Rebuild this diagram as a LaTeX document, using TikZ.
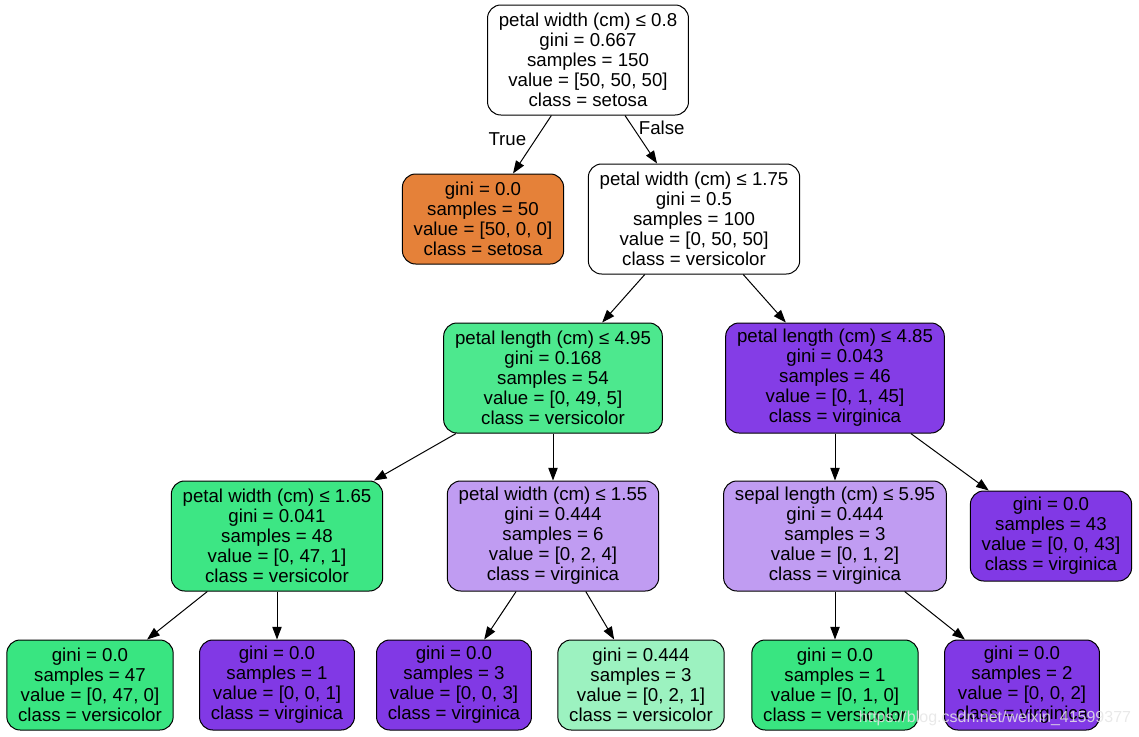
\documentclass[tikz,border=0pt]{standalone}
\usepackage{fontspec}
\setmainfont{Liberation Sans}
\usepackage{xcolor}
\usepackage{tikz}
\usetikzlibrary{arrows.meta, positioning}
\definecolor{setosaorange}{HTML}{e58139}
\definecolor{versigreen}{HTML}{39e581}
\definecolor{versigreenb}{HTML}{4de88e}
\definecolor{versigreenc}{HTML}{3de684}
\definecolor{versilight}{HTML}{9cf2c0}
\definecolor{virgpurple}{HTML}{8139e5}
\definecolor{virgpurpleb}{HTML}{843de6}
\definecolor{virglight}{HTML}{c09cf2}
\tikzstyle{splitbox} = [rectangle, rounded corners=10pt, minimum height=82.5pt, inner xsep=8.5pt,
  align=center, draw=black, fill=white, font=\fontsize{14pt}{15pt}\selectfont, line width=0.75pt]
\tikzstyle{leafbox} = [rectangle, rounded corners=10pt, minimum height=67.5pt, inner xsep=8.5pt,
  align=center, draw=black, fill=white, font=\fontsize{14pt}{15pt}\selectfont, line width=0.75pt]
\tikzstyle{arrow} = [-{Triangle[length=9.5pt, width=7pt]}, line width=0.75pt]
\tikzstyle{edgelabel} = [font=\fontsize{14pt}{15pt}\selectfont, inner sep=0pt]
\begin{document}
\begin{tikzpicture}[x=0.75pt, y=-0.75pt]
  \useasboundingbox (0,0) rectangle (1139,736);

  % Root and first split
  \node (root) [splitbox] at (588,60)
    {petal width (cm) ≤ 0.8\\gini = 0.667\\samples = 150\\value = [50, 50, 50]\\class = setosa};
  \node (setosa) [leafbox, fill=setosaorange] at (483,219)
    {gini = 0.0\\samples = 50\\value = [50, 0, 0]\\class = setosa};
  \node (pw175) [splitbox] at (694,219)
    {petal width (cm) ≤ 1.75\\gini = 0.5\\samples = 100\\value = [0, 50, 50]\\class = versicolor};

  % Second level
  \node (pl495) [splitbox, fill=versigreenb] at (553,378)
    {petal length (cm) ≤ 4.95\\gini = 0.168\\samples = 54\\value = [0, 49, 5]\\class = versicolor};
  \node (pl485) [splitbox, fill=virgpurpleb] at (835,378)
    {petal length (cm) ≤ 4.85\\gini = 0.043\\samples = 46\\value = [0, 1, 45]\\class = virginica};

  % Third level
  \node (pw165) [splitbox, fill=versigreenc] at (277,536)
    {petal width (cm) ≤ 1.65\\gini = 0.041\\samples = 48\\value = [0, 47, 1]\\class = versicolor};
  \node (pw155) [splitbox, fill=virglight] at (553,536)
    {petal width (cm) ≤ 1.55\\gini = 0.444\\samples = 6\\value = [0, 2, 4]\\class = virginica};
  \node (sl595) [splitbox, fill=virglight] at (835,536)
    {sepal length (cm) ≤ 5.95\\gini = 0.444\\samples = 3\\value = [0, 1, 2]\\class = virginica};
  \node (leaf43) [leafbox, fill=virgpurple] at (1051,536)
    {gini = 0.0\\samples = 43\\value = [0, 0, 43]\\class = virginica};

  % Leaves
  \node (leaf47) [leafbox, fill=versigreen] at (90,685)
    {gini = 0.0\\samples = 47\\value = [0, 47, 0]\\class = versicolor};
  \node (leaf1a) [leafbox, fill=virgpurple] at (277,685)
    {gini = 0.0\\samples = 1\\value = [0, 0, 1]\\class = virginica};
  \node (leaf3) [leafbox, fill=virgpurple] at (454,685)
    {gini = 0.0\\samples = 3\\value = [0, 0, 3]\\class = virginica};
  \node (leaf3b) [leafbox, fill=versilight] at (641,685)
    {gini = 0.444\\samples = 3\\value = [0, 2, 1]\\class = versicolor};
  \node (leaf1b) [leafbox, fill=versigreen] at (835,685)
    {gini = 0.0\\samples = 1\\value = [0, 1, 0]\\class = versicolor};
  \node (leaf2) [leafbox, fill=virgpurple] at (1022,685)
    {gini = 0.0\\samples = 2\\value = [0, 0, 2]\\class = virginica};

  \draw[arrow] (root) -- node[edgelabel, pos=0.4, left=7pt] {True} (setosa);
  \draw[arrow] (root) -- node[edgelabel, pos=0.25, right=4pt] {False} (pw175);
  \draw[arrow] (pw175) -- (pl495);
  \draw[arrow] (pw175) -- (pl485);
  \draw[arrow] (pl495) -- (pw165);
  \draw[arrow] (pl495) -- (pw155);
  \draw[arrow] (pl485) -- (sl595);
  \draw[arrow] (pl485) -- (leaf43);
  \draw[arrow] (pw165) -- (leaf47);
  \draw[arrow] (pw165) -- (leaf1a);
  \draw[arrow] (pw155) -- (leaf3);
  \draw[arrow] (pw155) -- (leaf3b);
  \draw[arrow] (sl595) -- (leaf1b);
  \draw[arrow] (sl595) -- (leaf2);

  % watermark
  \node (mark) [text=white!80!gray, opacity=0.85, font=\fontsize{12pt}{13pt}\selectfont, inner sep=0pt]
    at (995,718) {https://blog.csdn.net/weixin\_41599377};
\end{tikzpicture}
\end{document}
